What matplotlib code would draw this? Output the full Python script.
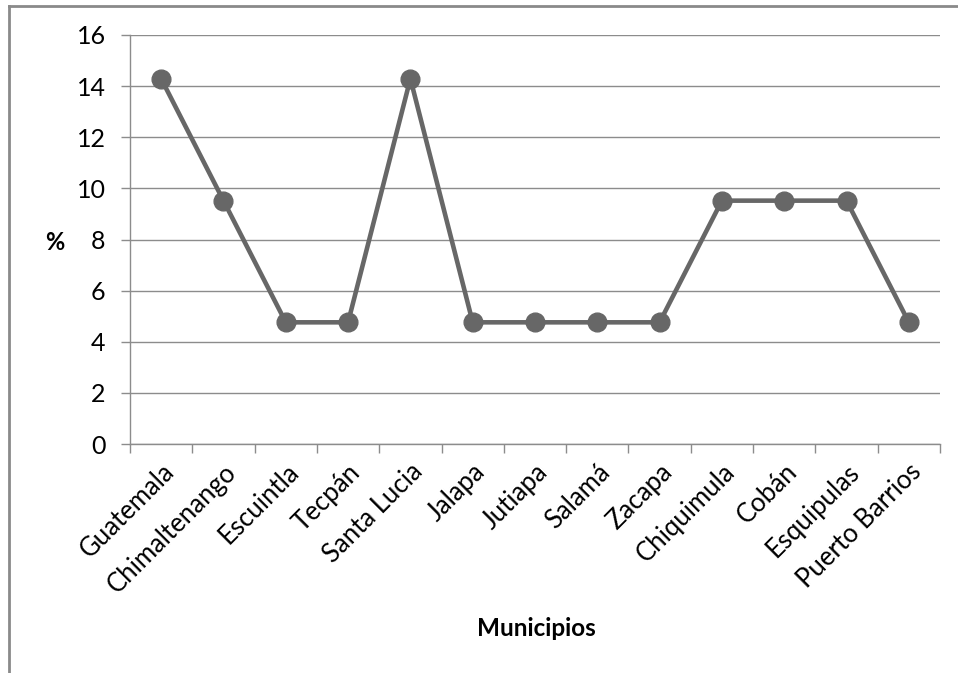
import matplotlib.pyplot as plt
from matplotlib.lines import Line2D

plt.rcParams['font.family'] = ['Lato', 'DejaVu Sans']

municipios = ['Guatemala', 'Chimaltenango', 'Escuintla', 'Tecpán', 'Santa Lucia',
              'Jalapa', 'Jutiapa', 'Salamá', 'Zacapa', 'Chiquimula', 'Cobán',
              'Esquipulas', 'Puerto Barrios']
porcentaje = [14.29, 9.52, 4.76, 4.76, 14.29, 4.76, 4.76, 4.76, 4.76,
              9.52, 9.52, 9.52, 4.76]

gris = '#676767'
eje = '#8c8c8c'

fig = plt.figure(figsize=(9.58, 6.73), dpi=100)
ax = fig.add_axes([130 / 958, 1 - 444 / 673, 810 / 958, 409 / 673])

x = list(range(len(municipios)))
ax.plot(x, porcentaje, color=gris, linewidth=3.3, marker='o',
        markersize=13.5, markerfacecolor=gris, markeredgecolor=gris, zorder=3)

ax.set_xlim(-0.5, len(municipios) - 0.5)
ax.set_ylim(0, 16)
ax.set_yticks(range(0, 17, 2))
ax.grid(axis='y', color=eje, linewidth=1)
ax.set_axisbelow(True)

# category ticks sit between the points
ax.set_xticks([i - 0.5 for i in range(len(municipios) + 1)], minor=False)
ax.set_xticklabels([])
ax.set_xticks(x, minor=True)
ax.set_xticklabels(municipios, minor=True, rotation=45, ha='right',
                   va='top', rotation_mode='anchor', fontsize=18.5)
ax.tick_params(axis='x', which='minor', length=0, pad=11)
ax.tick_params(axis='x', which='major', length=6.5, color=eje, width=1)
ax.tick_params(axis='y', length=6.5, color=eje, width=1, labelsize=18, pad=11)

for s in ['top', 'right']:
    ax.spines[s].set_visible(False)
for s in ['left', 'bottom']:
    ax.spines[s].set_color(eje)
    ax.spines[s].set_linewidth(1)

fig.text(55 / 958, 1 - 242 / 673, '%', fontsize=17, fontweight='bold',
         ha='center', va='center')
fig.text(536 / 958, 1 - 628 / 673, 'Municipios', fontsize=17.5, fontweight='bold',
         ha='center', va='center')

# chart frame
fig.add_artist(Line2D([9 / 958, 1], [1 - 6 / 673, 1 - 6 / 673],
                      transform=fig.transFigure, color='#8a8a8a', linewidth=2))
fig.add_artist(Line2D([9 / 958, 9 / 958], [0, 1 - 6 / 673],
                      transform=fig.transFigure, color='#8a8a8a', linewidth=2))

fig.savefig('out.png', dpi=100)
